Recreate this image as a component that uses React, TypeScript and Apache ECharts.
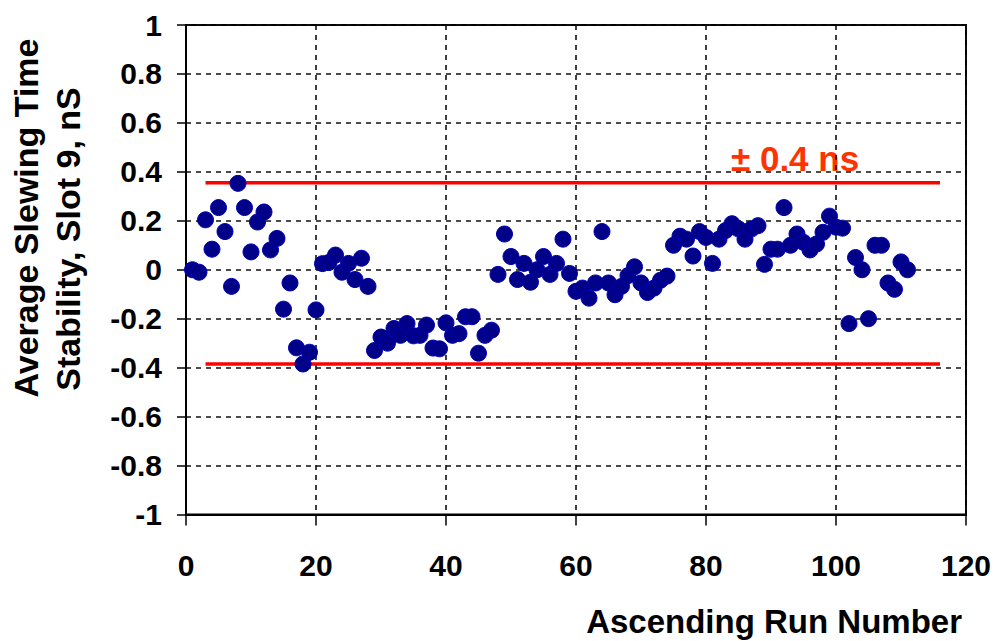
import React, { useEffect, useRef } from "react";
import * as echarts from "echarts";

// Average slewing time stability (ns), one value per ascending run number (1..111)
const stability: number[] = [
  0.0, -0.01, 0.204, 0.084, 0.254, 0.156, -0.068, 0.353, 0.254, 0.073,
  0.195, 0.236, 0.081, 0.128, -0.161, -0.054, -0.319, -0.385, -0.337, -0.164,
  0.025, 0.03, 0.06, -0.01, 0.026, -0.04, 0.047, -0.068, -0.33, -0.275,
  -0.3, -0.24, -0.268, -0.22, -0.27, -0.268, -0.226, -0.32, -0.323, -0.217,
  -0.268, -0.261, -0.192, -0.192, -0.341, -0.268, -0.247, -0.019, 0.146, 0.054,
  -0.04, 0.026, -0.051, 0.0, 0.054, -0.019, 0.026, 0.125, -0.015, -0.088,
  -0.075, -0.116, -0.054, 0.156, -0.054, -0.102, -0.068, -0.024, 0.012, -0.054,
  -0.093, -0.075, -0.043, -0.026, 0.1, 0.137, 0.125, 0.056, 0.156, 0.132,
  0.026, 0.125, 0.16, 0.188, 0.167, 0.125, 0.167, 0.18, 0.022, 0.084,
  0.084, 0.254, 0.1, 0.146, 0.112, 0.081, 0.105, 0.153, 0.219, 0.174,
  0.17, -0.22, 0.05, 0.0, -0.2, 0.1, 0.1, -0.054, -0.08, 0.032,
  0.0,
];

const xMin = 0;
const xMax = 120;
const xInterval = 20;
const yMin = -1;
const yMax = 1;
const yInterval = 0.2;

const limitUpper = 0.355;
const limitLower = -0.385;
const limitFrom = 3;
const limitTo = 116;
const limitLabel = "± 0.4 ns";

const xTitle = "Ascending Run Number";
const yTitleLine1 = "Average Slewing Time";
const yTitleLine2 = "Stability, Slot 9, nS";

const FONT = "'Liberation Sans', Arial, sans-serif";

export default function App() {
  const ref = useRef<HTMLDivElement>(null);

  useEffect(() => {
    if (!ref.current) return;
    const chart = echarts.init(ref.current, null, { renderer: "svg" });

    const points = stability.map((v, i) => [i + 1, v]);

    const option: any = {
      animation: false,
      backgroundColor: "#ffffff",
      grid: {
        left: 186,
        right: 29,
        top: 25,
        bottom: 126.5,
        show: true,
        borderColor: "#000",
        borderWidth: 2,
        backgroundColor: "transparent",
      },
      xAxis: {
        type: "value",
        min: xMin,
        max: xMax,
        interval: xInterval,
        axisLine: { onZero: false, lineStyle: { color: "#000", width: 2 } },
        axisTick: { show: true, length: 11, lineStyle: { color: "#000", width: 1.5 } },
        axisLabel: {
          color: "#000",
          fontSize: 30,
          fontWeight: "bold",
          fontFamily: FONT,
          margin: 36,
        },
        splitLine: {
          show: true,
          lineStyle: { color: "#111", width: 1.6, type: [5, 5] },
        },
      },
      yAxis: {
        type: "value",
        min: yMin,
        max: yMax,
        interval: yInterval,
        axisLine: { show: true, lineStyle: { color: "#000", width: 2 } },
        axisTick: { show: true, length: 9, lineStyle: { color: "#000", width: 1.5 } },
        axisLabel: {
          color: "#000",
          fontSize: 30,
          fontWeight: "bold",
          fontFamily: FONT,
          margin: 24,
        },
        splitLine: {
          show: true,
          lineStyle: { color: "#111", width: 1.6, type: [5, 5] },
        },
      },
      series: [
        {
          type: "line",
          data: [
            [limitFrom, limitUpper],
            [limitTo, limitUpper],
          ],
          symbol: "none",
          lineStyle: { color: "#ff0000", width: 3.5 },
          z: 3,
        },
        {
          type: "line",
          data: [
            [limitFrom, limitLower],
            [limitTo, limitLower],
          ],
          symbol: "none",
          lineStyle: { color: "#ff0000", width: 3.5 },
          z: 3,
        },
        {
          type: "scatter",
          data: points,
          symbol: "circle",
          symbolSize: 16,
          itemStyle: { color: "#000088", borderColor: "#0000b4", borderWidth: 1, opacity: 1 },
          z: 4,
        },
      ],
      graphic: [
        {
          type: "text",
          x: 731,
          y: 158,
          style: {
            text: limitLabel,
            fill: "#ff3300",
            font: `bold 35px ${FONT}`,
            align: "left",
            verticalAlign: "middle",
          },
        },
        {
          type: "text",
          x: 962,
          y: 621,
          style: {
            text: xTitle,
            fill: "#000",
            font: `bold 33px ${FONT}`,
            align: "right",
            verticalAlign: "middle",
          },
        },
        {
          type: "text",
          x: 26,
          y: 218,
          rotation: Math.PI / 2,
          style: {
            text: yTitleLine1,
            fill: "#000",
            font: `bold 34px ${FONT}`,
            align: "center",
            verticalAlign: "middle",
          },
        },
        {
          type: "text",
          x: 68,
          y: 239,
          rotation: Math.PI / 2,
          style: {
            text: yTitleLine2,
            fill: "#000",
            font: `bold 34px ${FONT}`,
            align: "center",
            verticalAlign: "middle",
          },
        },
      ],
    };

    chart.setOption(option);
    return () => chart.dispose();
  }, []);

  return (
    <div
      ref={ref}
      style={{ position: "fixed", left: 0, top: 0, width: 995, height: 641, background: "#fff" }}
    />
  );
}
